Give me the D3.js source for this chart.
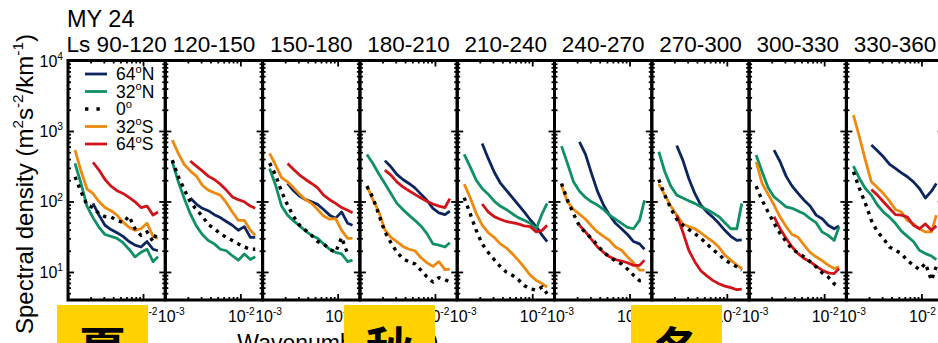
<!DOCTYPE html>
<html>
<head>
<meta charset="utf-8">
<script src="https://cdn.jsdelivr.net/npm/d3@7"></script>
<style>
  html, body { margin: 0; padding: 0; background: #fff; overflow: hidden; }
  svg { display: block; font-family: "Liberation Sans", Arial, Helvetica, sans-serif; }
</style>
</head>
<body>
<svg id="chart" width="938" height="343"></svg>
<script>
// ---- data -------------------------------------------------------------
const yearLabel = "MY 24";
const seasons = ["Ls 90-120", "120-150", "150-180", "180-210", "210-240",
                 "240-270", "270-300", "300-330", "330-360"];
const seasonTags = [{ text: "夏", panel: 0 }, { text: "秋", panel: 3 }, { text: "冬", panel: 6 }];

// wavenumber samples (km^-1) shared by every spectrum
const wavenumbers = [1.24e-3, 1.49e-3, 1.79e-3, 2.15e-3, 2.59e-3, 3.11e-3, 3.74e-3, 4.50e-3,
                     5.41e-3, 6.50e-3, 7.82e-3, 9.40e-3, 1.13e-2, 1.36e-2, 1.58e-2];

// spectral density (m^2 s^-2 / km^-1), one row per Ls bin
const lat64N = [
  [null, null, null, 94, 64, 46, 40, 36, 32, 27, 24, 22.6, 27, 21, 20],
  [null, null, null, 112, 92, 80, 74, 65, 59, 52, 46, 39, 44, 31, 31],
  [null, null, null, 180, 142, 119, 106, 99, 91, 77, 64, 58, 71, 49, 46],
  [null, null, null, 380, 310, 242, 205, 180, 156, 127, 104, 80, 69, 65, 73],
  [null, null, null, 666, 408, 262, 184, 145, 114, 90, 71, 55, 44, 33, 27],
  [null, null, null, 700, 465, 250, 139, 89, 64, 49, 41, 34, 27, 25, 21],
  [null, null, null, 620, 386, 212, 130, 89, 71, 60, 49, 39, 32, 28, 28.5],
  [null, null, null, 536, 366, 229, 165, 130, 104, 86, 64, 57, 46, 41, 45],
  [null, null, null, 631, 525, 430, 340, 294, 255, 224, 190, 153, 112, 140, 180]
];
const lat32N = [
  [346, 180, 86, 59, 43, 34, 32, 30, 26, 21, 16.4, 19, 21, 14, 16.4],
  [366, 190, 110, 67, 45, 34, 28, 25, 21, 20, 17, 14.7, 18, 15, 16.4],
  [294, 170, 86, 64, 53, 45, 38, 33, 30, 25, 21, 19, 18, 14, 14.7],
  [465, 346, 245, 180, 130, 94, 77, 64, 54, 45, 35, 25, 24, 22.6, 26],
  [465, 310, 201, 153, 127, 101, 86, 77, 67, 59, 54, 49, 41, 68, 94],
  [610, 346, 190, 140, 114, 99, 89, 77, 64, 56, 49, 43, 41, 54, 104],
  [507, 264, 165, 123, 112, 102, 94, 84, 77, 69, 61, 50, 41, 41, 94],
  [455, 264, 158, 116, 99, 84, 80, 73, 67, 57, 50, 37, 33, 28, 44],
  [317, 212, 153, 123, 89, 71, 60, 49, 38, 32, 27, 20.3, 18.2, 16.8, 15]
];
const lat0 = [
  [224, 138, 89, 82, 67, 61, 60, 54, 50, 62, 41, 33, 37, 27, 39],
  [386, 224, 148, 99, 77, 62, 47, 41, 35, 31, 28, 25, 22.6, 21, 21],
  [350, 237, 138, 89, 61, 46, 39, 33, 27, 25, 21, 19, 31, 18, null],
  [165, 113, 65, 37, 26, 19, 15.5, 14, 13, 10.6, 8.5, 7.2, 8.3, 7.8, 7.2],
  [113, 67, 39, 25, 19, 15, 12, 10, 9, 7.8, 6.4, 5.8, 5.5, 6.1, 4.9],
  [180, 104, 67, 45, 36, 30, 24, 19, 16.4, 14.3, 13, 11, 9, 7.5, 7.6],
  [205, 123, 80, 56, 46, 40, 35, 30, 25, 20.8, 17.8, 14.7, 13.2, 11.8, 10.6],
  [165, 104, 71, 49, 35, 27, 21, 18.6, 16.4, 14, 11.8, 9.7, 8.5, 6.8, 6.1],
  [264, 153, 94, 54, 37, 30, 22.6, 20.3, 18.2, 14.5, 12.5, 10.8, 13.2, 7.6, 12]
];
const lat32S = [
  [536, 270, 150, 130, 99, 82, 74, 64, 51, 43, 39, 41, 49, 32, 30],
  [743, 480, 335, 272, 229, 170, 145, 133, 123, 96, 71, 54, 54, 39, 33],
  [480, 328, 218, 190, 156, 127, 106, 94, 77, 62, 56, 57, 39, 30, 30],
  [165, 106, 71, 40, 31, 27, 23, 21, 20, 16, 13.5, 12, 14, 10.8, 11],
  [176, 113, 68, 46, 36, 31, 25, 22, 18.2, 14.7, 11.6, 9.0, 7.6, 6.8, 6.1],
  [170, 99, 77, 66, 56, 45, 37, 32, 28, 22.6, 20.3, 16.4, 13.5, 10.6, 10.6],
  [176, 123, 86, 64, 48, 44, 41, 36, 31, 27, 22.6, 17.3, 14.7, 12.5, 11.2],
  [366, 180, 127, 89, 60, 44, 34, 31, 24, 19, 16.4, 14.5, 12.5, 11.2, 11.8],
  [1680, 827, 386, 190, 158, 130, 102, 77, 71, 54, 48, 41, 37, 37, 64]
];
const lat64S = [
  [null, null, null, 360, 279, 205, 165, 142, 130, 114, 99, 82, 86, 64, 71],
  [null, null, null, 375, 317, 272, 229, 205, 176, 145, 116, 106, 99, 86, 80],
  [null, null, null, 346, 285, 237, 205, 180, 156, 123, 106, 94, 82, 75, 69],
  [null, null, null, 279, 237, 190, 161, 142, 126, 112, 101, 92, 86, 82, 110],
  [null, null, null, 92, 71, 61, 56, 52, 50, 48, 45, 44, 37, 39, 46],
  [null, null, null, 46, 37, 29, 22.6, 19, 16.4, 15, 14.3, 13.5, 12.4, 12.4, 14.7],
  [null, null, null, 64, 37, 20.3, 14, 10.4, 8.8, 7.6, 6.8, 6.3, 6.0, 5.6, 5.7],
  [null, null, null, 61, 41, 30, 22.6, 18.2, 15.5, 14, 12.1, 10.6, 9.7, 9.5, 11.2],
  [null, null, null, 148, 123, 99, 80, 65, 64, 60, 46, 41, 48, 39, 45]
];

const latNames = ["64", "32", "0", "32", "64"];
const latHemis = ["N", "N", "", "S", "S"];
const latColors = ["#0c2560", "#119068", "#000000", "#ee8a10", "#d0141a"];

const xTickValues = [1e-3, 1e-2];
const xTickExps = ["-3", "-2"];
const yTickValues = [10, 100, 1000, 10000];
const yTickExps = ["1", "2", "3", "4"];

// ---- layout ---------------------------------------------------------
const svg = d3.select("#chart");
const plotLeft = 68, panelW = 97.3, plotTop = 60.5, plotBottom = 300;
const fontMain = 22.5;

const series = [
  { values: lat64N, color: latColors[0], dotted: false },
  { values: lat32N, color: latColors[1], dotted: false },
  { values: lat32S, color: latColors[3], dotted: false },
  { values: lat64S, color: latColors[4], dotted: false },
  { values: lat0,   color: latColors[2], dotted: true }
];

const y = d3.scaleLog().domain([4, 1e4]).range([plotBottom, plotTop]);

function rich(textSel, parts, size) {
  let raised = false;
  const shift = size * 0.42;
  parts.forEach(([t, sup]) => {
    const ts = textSel.append("tspan").text(t);
    if (sup) {
      ts.attr("font-size", size * 0.64);
      if (!raised) { ts.attr("dy", -shift); raised = true; }
    } else if (raised) {
      ts.attr("dy", shift); raised = false;
    }
  });
  return textSel;
}

function minorTicks(lo, hi) {
  const out = [];
  for (let e = Math.floor(Math.log10(lo)); e <= Math.ceil(Math.log10(hi)); e++) {
    for (let m = 2; m <= 9; m++) {
      const v = m * Math.pow(10, e);
      if (v > lo && v < hi) out.push(v);
    }
  }
  return out;
}

const yMinor = minorTicks(4, 1e4);
const line = d3.line().defined(d => d[1] != null);

seasons.forEach((title, i) => {
  const left = plotLeft + i * panelW;
  const right = left + panelW;
  const x = d3.scaleLog().domain([1e-3, 0.0198]).range([left, right]);
  const xMinor = minorTicks(1e-3, 0.0198);
  const g = svg.append("g");

  // spectra
  const lineGen = line.x(d => x(d[0])).y(d => y(d[1]));
  series.forEach(s => {
    const pts = wavenumbers.map((k, j) => [k, s.values[i][j]]);
    g.append("path")
      .attr("d", lineGen(pts))
      .attr("fill", "none")
      .attr("stroke", s.color)
      .attr("stroke-width", s.dotted ? 3.4 : 2.8)
      .attr("stroke-linejoin", "round")
      .attr("stroke-dasharray", s.dotted ? "3.4,5" : null);
  });

  // inward ticks on all four sides
  const tickStyle = sel => {
    sel.select(".domain").remove();
    sel.selectAll("line").attr("stroke", "#000").attr("stroke-width", 1.8);
    sel.selectAll("text").remove();
  };
  [[d3.axisLeft, left, 6, yTickValues], [d3.axisLeft, left, 3, yMinor],
   [d3.axisRight, right, 6, yTickValues], [d3.axisRight, right, 3, yMinor]].forEach(([ax, tx, len, vals]) => {
    g.append("g").attr("transform", `translate(${tx},0)`)
      .call(ax(y).tickValues(vals).tickSize(-len).tickFormat(""))
      .call(tickStyle);
  });
  [[d3.axisBottom, plotBottom, 6, xTickValues], [d3.axisBottom, plotBottom, 3, xMinor],
   [d3.axisTop, plotTop, 6, xTickValues], [d3.axisTop, plotTop, 3, xMinor]].forEach(([ax, ty, len, vals]) => {
    g.append("g").attr("transform", `translate(0,${ty})`)
      .call(ax(x).tickValues(vals).tickSize(-len).tickFormat(""))
      .call(tickStyle);
  });

  // frame
  g.append("rect")
    .attr("x", left).attr("y", plotTop)
    .attr("width", panelW).attr("height", plotBottom - plotTop)
    .attr("fill", "none").attr("stroke", "#000").attr("stroke-width", 3);

  // bottom tick labels
  xTickValues.forEach((v, t) => {
    const tx = g.append("text")
      .attr("x", x(v) + (t === 0 ? 6 : 1)).attr("y", 322)
      .attr("text-anchor", "middle").attr("font-size", 16).attr("fill", "#000");
    rich(tx, [["10", false], [xTickExps[t], true]], 16);
  });

  // panel title
  svg.append("text")
    .attr("x", (left + right) / 2).attr("y", 52)
    .attr("text-anchor", "middle").attr("font-size", fontMain).attr("fill", "#000")
    .text(title);
});

// y tick labels
yTickValues.forEach((v, t) => {
  const tx = svg.append("text")
    .attr("x", 63).attr("y", y(v) + 6)
    .attr("text-anchor", "end").attr("font-size", 16).attr("fill", "#000");
  rich(tx, [["10", false], [yTickExps[t], true]], 16);
});

// year label
svg.append("text").attr("x", 67).attr("y", 27)
  .attr("font-size", 23.5).attr("fill", "#000").text(yearLabel);

// axis titles
const yTitle = svg.append("text")
  .attr("transform", "translate(33,184) rotate(-90)")
  .attr("text-anchor", "middle").attr("font-size", 24).attr("fill", "#000");
rich(yTitle, [["Spectral density (m", false], ["2", true], ["s", false], ["-2", true],
              ["/km", false], ["-1", true], [")", false]], 24);

const xTitle = svg.append("text")
  .attr("x", 338).attr("y", 351)
  .attr("text-anchor", "middle").attr("font-size", 23).attr("fill", "#000");
rich(xTitle, [["Wavenumber (km", false], ["-1", true], [")", false]], 23);

// legend
const legend = svg.append("g");
latNames.forEach((name, i) => {
  const ly = 74 + i * 17.5;
  legend.append("line")
    .attr("x1", 85).attr("x2", 107).attr("y1", ly).attr("y2", ly)
    .attr("stroke", latColors[i])
    .attr("stroke-width", i === 2 ? 3.4 : 2.8)
    .attr("stroke-dasharray", i === 2 ? "3.4,8" : null);
  const tx = legend.append("text")
    .attr("x", 116).attr("y", ly + 6)
    .attr("font-size", 17.5).attr("fill", "#000");
  rich(tx, [[name, false], ["o", true], [latHemis[i], false]], 17.5);
});

// season tags
const tagX = [57, 344, 631];
seasonTags.forEach((tag, i) => {
  svg.append("rect")
    .attr("x", tagX[i]).attr("y", 305).attr("width", 91).attr("height", 40)
    .attr("fill", "#ffd200");
  svg.append("text")
    .attr("x", tagX[i] + 45.5).attr("y", 367)
    .attr("text-anchor", "middle")
    .attr("font-family", "'Noto Sans CJK SC', 'Noto Sans CJK JP', sans-serif")
    .attr("font-weight", "bold").attr("font-size", 48).attr("fill", "#000")
    .text(tag.text);
});
</script>
</body>
</html>
